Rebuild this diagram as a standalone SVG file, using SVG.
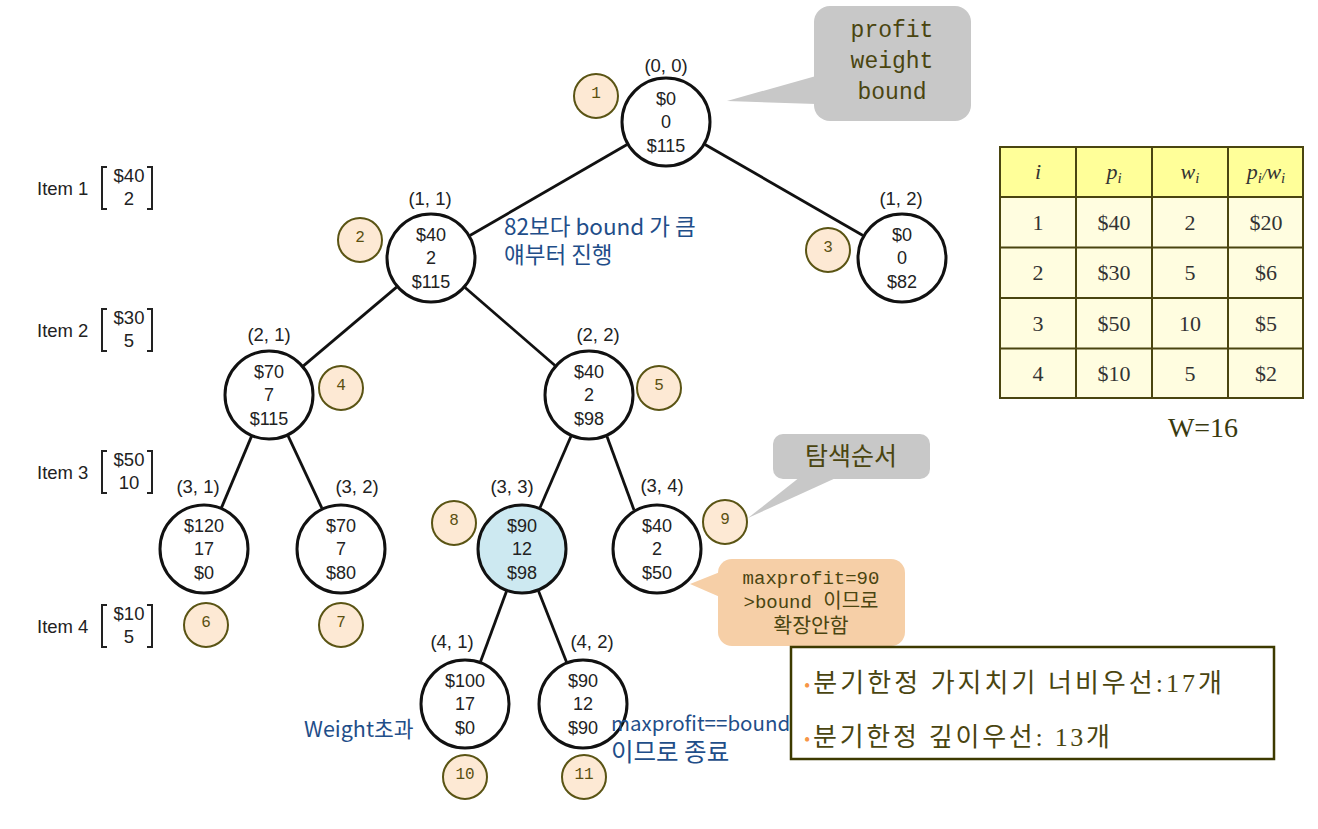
<svg xmlns="http://www.w3.org/2000/svg" width="1318" height="829" viewBox="0 0 1318 829">
<style>
.node{fill:#fff;stroke:#111;stroke-width:3}
.hl{fill:#cde9f1}
.nt{font-family:"Liberation Sans",Arial,sans-serif;font-size:18px;fill:#222;text-anchor:middle}
.pl{font-family:"Liberation Sans",Arial,sans-serif;font-size:18.5px;fill:#222;text-anchor:middle}
.ord{fill:#fde9d4;stroke:#5a5414;stroke-width:2}
.ot{font-family:"Liberation Mono","Courier New",monospace;font-size:16px;fill:#5a5010;text-anchor:middle}
.edge{stroke:#111;stroke-width:2.8;fill:none}
.item{font-family:"Liberation Sans",Arial,sans-serif;font-size:18.5px;fill:#222}
.brk{fill:none;stroke:#222;stroke-width:2}
.blue{font-family:"Noto Sans CJK KR","Noto Sans",sans-serif;fill:#1f4e89}
.mono{font-family:"Liberation Mono","Courier New","Noto Sans CJK KR",monospace;fill:#4a4510;text-anchor:middle}
.kr{font-family:"Noto Sans CJK KR",sans-serif;fill:#4a4510;text-anchor:middle}
.tb{font-family:"Liberation Serif","Times New Roman",serif;font-size:22px;fill:#333;text-anchor:middle}
.cell{stroke:#4a4510;stroke-width:2}
.box{font-family:"Liberation Serif","Times New Roman","Noto Sans CJK KR",serif;font-size:26px;fill:#4a4510}
</style>

<g id="connectors">
<line class="edge" x1="627.1" y1="144.5" x2="469.9" y2="235.5"/>
<line class="edge" x1="705" y1="144.5" x2="863" y2="235.5"/>
<line class="edge" x1="396.6" y1="287.1" x2="303.4" y2="365.9"/>
<line class="edge" x1="465" y1="287.5" x2="555" y2="365.5"/>
<line class="edge" x1="251.5" y1="436.4" x2="221.5" y2="507.6"/>
<line class="edge" x1="288.1" y1="435.8" x2="321.9" y2="508.2"/>
<line class="edge" x1="571" y1="436.3" x2="540" y2="507.7"/>
<line class="edge" x1="607" y1="436.5" x2="634" y2="510"/>
<line class="edge" x1="506.5" y1="591.2" x2="480.5" y2="661.8"/>
<line class="edge" x1="538.5" y1="590.9" x2="566.5" y2="662.1"/>
</g>

<g id="node-0-0">
<circle class="node" cx="666" cy="122" r="44"/>
<text class="pl" x="666" y="72">(0, 0)</text>
<text class="nt" x="666" y="105">$0</text>
<text class="nt" x="666" y="128">0</text>
<text class="nt" x="666" y="152">$115</text>
</g>
<g id="node-1-1">
<circle class="node" cx="431" cy="258" r="44"/>
<text class="pl" x="430" y="205">(1, 1)</text>
<text class="nt" x="431" y="241">$40</text>
<text class="nt" x="431" y="264">2</text>
<text class="nt" x="431" y="288">$115</text>
</g>
<g id="node-1-2">
<circle class="node" cx="902" cy="258" r="44"/>
<text class="pl" x="901" y="205">(1, 2)</text>
<text class="nt" x="902" y="241">$0</text>
<text class="nt" x="902" y="264">0</text>
<text class="nt" x="902" y="288">$82</text>
</g>
<g id="node-2-1">
<circle class="node" cx="269" cy="395" r="44"/>
<text class="pl" x="269" y="341">(2, 1)</text>
<text class="nt" x="269" y="378">$70</text>
<text class="nt" x="269" y="401">7</text>
<text class="nt" x="269" y="425">$115</text>
</g>
<g id="node-2-2">
<circle class="node" cx="589" cy="395" r="44"/>
<text class="pl" x="598" y="341">(2, 2)</text>
<text class="nt" x="589" y="378">$40</text>
<text class="nt" x="589" y="401">2</text>
<text class="nt" x="589" y="425">$98</text>
</g>
<g id="node-3-1">
<circle class="node" cx="204" cy="549" r="44"/>
<text class="pl" x="198" y="493">(3, 1)</text>
<text class="nt" x="204" y="532">$120</text>
<text class="nt" x="204" y="555">17</text>
<text class="nt" x="204" y="579">$0</text>
</g>
<g id="node-3-2">
<circle class="node" cx="341" cy="549" r="44"/>
<text class="pl" x="357" y="493">(3, 2)</text>
<text class="nt" x="341" y="532">$70</text>
<text class="nt" x="341" y="555">7</text>
<text class="nt" x="341" y="579">$80</text>
</g>
<g id="node-3-3">
<circle class="node hl" cx="522" cy="549" r="44"/>
<text class="pl" x="512" y="493">(3, 3)</text>
<text class="nt" x="522" y="532">$90</text>
<text class="nt" x="522" y="555">12</text>
<text class="nt" x="522" y="579">$98</text>
</g>
<g id="node-3-4">
<circle class="node" cx="657" cy="549" r="44"/>
<text class="pl" x="662" y="492">(3, 4)</text>
<text class="nt" x="657" y="532">$40</text>
<text class="nt" x="657" y="555">2</text>
<text class="nt" x="657" y="579">$50</text>
</g>
<g id="node-4-1">
<circle class="node" cx="465" cy="704" r="44"/>
<text class="pl" x="452" y="648">(4, 1)</text>
<text class="nt" x="465" y="687">$100</text>
<text class="nt" x="465" y="710">17</text>
<text class="nt" x="465" y="734">$0</text>
</g>
<g id="node-4-2">
<circle class="node" cx="583" cy="704" r="44"/>
<text class="pl" x="592" y="648">(4, 2)</text>
<text class="nt" x="583" y="687">$90</text>
<text class="nt" x="583" y="710">12</text>
<text class="nt" x="583" y="734">$90</text>
</g>

<g id="order">
<circle class="ord" cx="596" cy="96" r="22"/><text class="ot" x="596" y="98">1</text>
<circle class="ord" cx="360" cy="240" r="22"/><text class="ot" x="360" y="242">2</text>
<circle class="ord" cx="828" cy="250" r="22"/><text class="ot" x="828" y="252">3</text>
<circle class="ord" cx="341" cy="388" r="22"/><text class="ot" x="341" y="390">4</text>
<circle class="ord" cx="659" cy="388" r="22"/><text class="ot" x="659" y="390">5</text>
<circle class="ord" cx="206" cy="625" r="22"/><text class="ot" x="206" y="627">6</text>
<circle class="ord" cx="341" cy="625" r="22"/><text class="ot" x="341" y="627">7</text>
<circle class="ord" cx="454" cy="523" r="22"/><text class="ot" x="454" y="525">8</text>
<circle class="ord" cx="725" cy="522" r="22"/><text class="ot" x="725" y="524">9</text>
<circle class="ord" cx="465" cy="777" r="22"/><text class="ot" x="465" y="779">10</text>
<circle class="ord" cx="584" cy="777" r="22"/><text class="ot" x="584" y="779">11</text>
</g>

<g id="items">
<text class="item" x="37" y="195">Item 1</text>
<path class="brk" d="M107,167 H102 V209 H107 M147,167 H152 V209 H147"/>
<text class="item" x="129" y="182" text-anchor="middle">$40</text>
<text class="item" x="129" y="205" text-anchor="middle">2</text>
<text class="item" x="37" y="337">Item 2</text>
<path class="brk" d="M107,309 H102 V351 H107 M147,309 H152 V351 H147"/>
<text class="item" x="129" y="324" text-anchor="middle">$30</text>
<text class="item" x="129" y="347" text-anchor="middle">5</text>
<text class="item" x="37" y="479">Item 3</text>
<path class="brk" d="M107,451 H102 V493 H107 M147,451 H152 V493 H147"/>
<text class="item" x="129" y="466" text-anchor="middle">$50</text>
<text class="item" x="129" y="489" text-anchor="middle">10</text>
<text class="item" x="37" y="633">Item 4</text>
<path class="brk" d="M107,605 H102 V647 H107 M147,605 H152 V647 H147"/>
<text class="item" x="129" y="620" text-anchor="middle">$10</text>
<text class="item" x="129" y="643" text-anchor="middle">5</text>
</g>

<g id="callout-legend">
<rect x="814" y="6" width="157" height="115" rx="16" fill="#c8c8c8"/>
<polygon points="816,76 727,101 816,104" fill="#c8c8c8"/>
<text class="mono" x="892" y="37" style="font-size:23px">profit</text>
<text class="mono" x="892" y="68" style="font-size:23px">weight</text>
<text class="mono" x="892" y="99" style="font-size:23px">bound</text>
</g>

<g id="callout-order">
<rect x="773" y="434" width="157" height="45" rx="10" fill="#c8c8c8"/>
<polygon points="800,477 748,518 838,477" fill="#c8c8c8"/>
<text class="kr" x="851" y="465" style="font-size:25px">탐색순서</text>
</g>

<g id="callout-maxprofit">
<rect x="718" y="559" width="187" height="87" rx="14" fill="#f6cfa7"/>
<polygon points="720,572 690,584 720,597" fill="#f6cfa7"/>
<text class="mono" x="811" y="584" style="font-size:19px">maxprofit=90</text>
<text class="mono" x="811" y="608" style="font-size:19px">&gt;bound <tspan style="font-size:20px">이므로</tspan></text>
<text class="kr" x="811" y="633" style="font-size:20.5px">확장안함</text>
</g>

<g id="notes">
<text class="blue" x="504" y="235" style="font-size:22.5px">82보다 bound 가 큼</text>
<text class="blue" x="504" y="263" style="font-size:22.5px">얘부터 진행</text>
<text class="blue" x="304" y="737" style="font-size:21.5px">Weight초과</text>
<text class="blue" x="611" y="731" style="font-size:20.5px">maxprofit==bound</text>
<text class="blue" x="611" y="761" style="font-size:24.5px">이므로 종료</text>
</g>

<g id="table">
<rect x="1000" y="147" width="303" height="50" fill="#ffff99"/>
<rect x="1000" y="197" width="303" height="201" fill="#fffde0"/>
<g class="cell">
<line x1="1000" y1="147" x2="1303" y2="147"/>
<line x1="1000" y1="197" x2="1303" y2="197"/>
<line x1="1000" y1="247.5" x2="1303" y2="247.5"/>
<line x1="1000" y1="298" x2="1303" y2="298"/>
<line x1="1000" y1="348.5" x2="1303" y2="348.5"/>
<line x1="1000" y1="398" x2="1303" y2="398"/>
<line x1="1000" y1="146" x2="1000" y2="399"/>
<line x1="1076" y1="146" x2="1076" y2="399"/>
<line x1="1152" y1="146" x2="1152" y2="399"/>
<line x1="1228" y1="146" x2="1228" y2="399"/>
<line x1="1303" y1="146" x2="1303" y2="399"/>
</g>
<text class="tb" x="1038" y="179" font-style="italic">i</text>
<text class="tb" x="1114" y="179" font-style="italic">p<tspan font-size="15" dy="4">i</tspan></text>
<text class="tb" x="1190" y="179" font-style="italic">w<tspan font-size="15" dy="4">i</tspan></text>
<text class="tb" x="1266" y="179" font-style="italic">p<tspan font-size="15" dy="4">i</tspan><tspan font-size="16" dy="-3">/</tspan><tspan dy="-1">w</tspan><tspan font-size="15" dy="4">i</tspan></text>
<text class="tb" x="1038" y="230">1</text><text class="tb" x="1114" y="230">$40</text><text class="tb" x="1190" y="230">2</text><text class="tb" x="1266" y="230">$20</text>
<text class="tb" x="1038" y="280">2</text><text class="tb" x="1114" y="280">$30</text><text class="tb" x="1190" y="280">5</text><text class="tb" x="1266" y="280">$6</text>
<text class="tb" x="1038" y="331">3</text><text class="tb" x="1114" y="331">$50</text><text class="tb" x="1190" y="331">10</text><text class="tb" x="1266" y="331">$5</text>
<text class="tb" x="1038" y="381">4</text><text class="tb" x="1114" y="381">$10</text><text class="tb" x="1190" y="381">5</text><text class="tb" x="1266" y="381">$2</text>
<text class="tb" x="1203" y="437" style="font-size:28px;fill:#3a3a10">W=16</text>
</g>

<g id="summary">
<rect x="791" y="647" width="483" height="112" fill="#fff" stroke="#3d3a00" stroke-width="2.5"/>
<text class="box" x="804" y="692" textLength="418" lengthAdjust="spacing"><tspan fill="#f79646" font-size="18">•</tspan>분기한정 가지치기 너비우선:17개</text>
<text class="box" x="804" y="746" textLength="306" lengthAdjust="spacing"><tspan fill="#f79646" font-size="18">•</tspan>분기한정 깊이우선: 13개</text>
</g>
</svg>
